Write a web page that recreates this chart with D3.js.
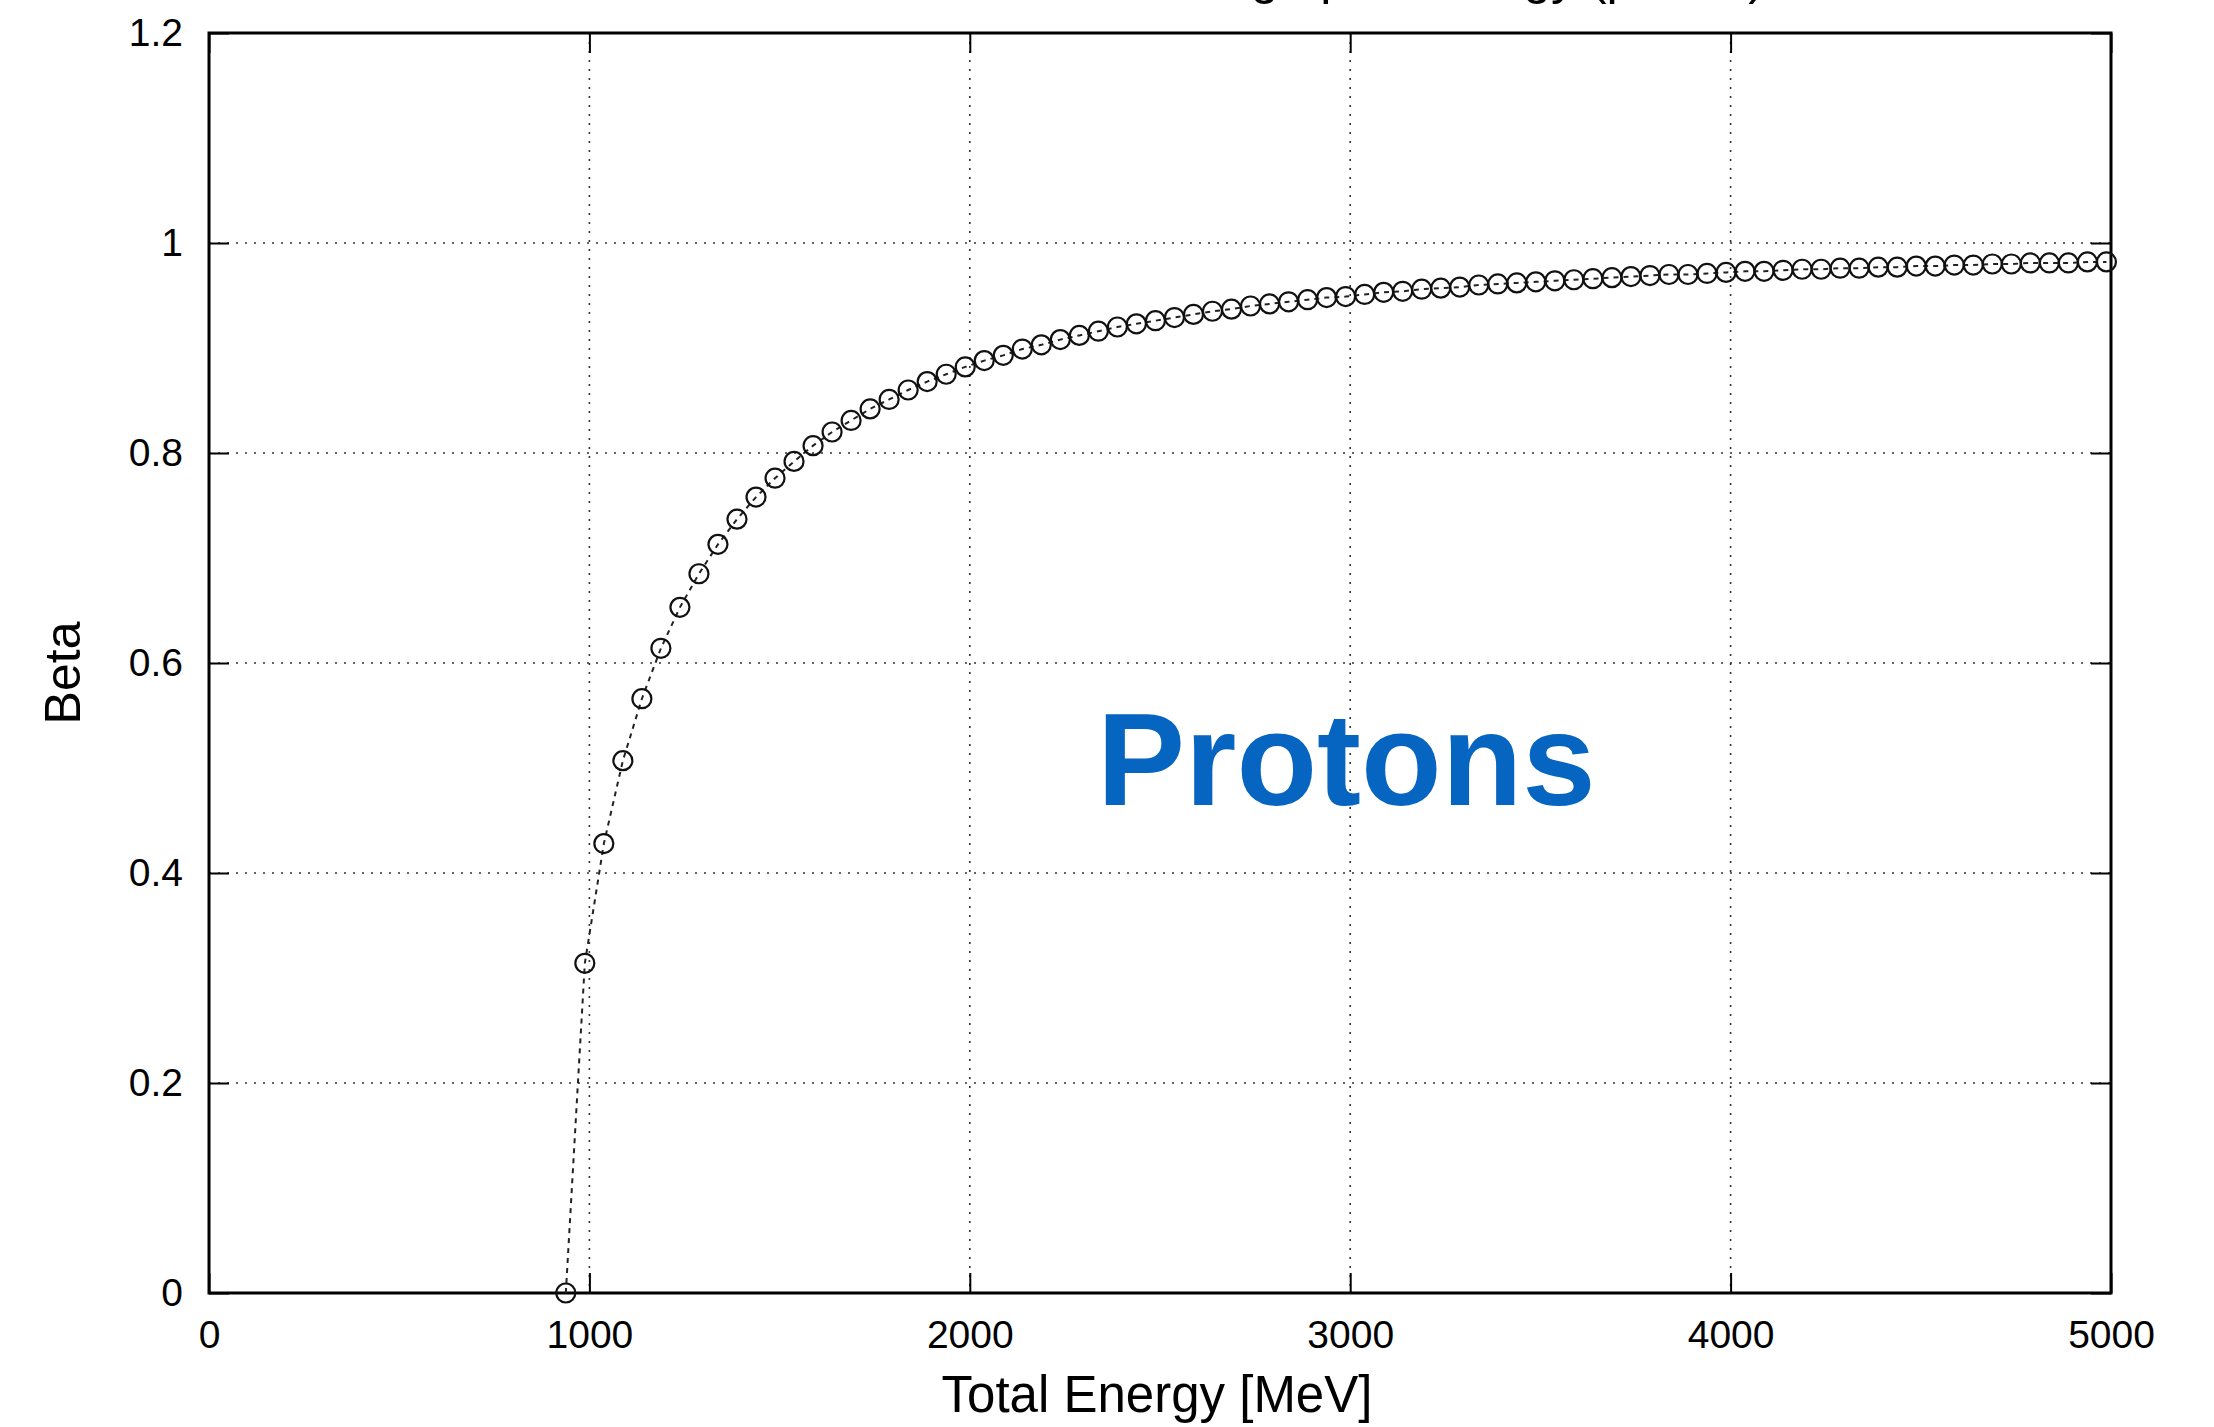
<!DOCTYPE html>
<html>
<head>
<meta charset="utf-8">
<script src="https://cdn.jsdelivr.net/npm/d3@7"></script>
<style>
  body { margin: 0; background: #fff; }
  text { font-family: "Liberation Sans", Arial, Helvetica, sans-serif; }
</style>
</head>
<body>
<script>
// proton beta vs total energy, one point every 50 MeV from the rest mass
const energies = [938, 988, 1038, 1088, 1138, 1188, 1238, 1288, 1338, 1388,
  1438, 1488, 1538, 1588, 1638, 1688, 1738, 1788, 1838, 1888,
  1938, 1988, 2038, 2088, 2138, 2188, 2238, 2288, 2338, 2388,
  2438, 2488, 2538, 2588, 2638, 2688, 2738, 2788, 2838, 2888,
  2938, 2988, 3038, 3088, 3138, 3188, 3238, 3288, 3338, 3388,
  3438, 3488, 3538, 3588, 3638, 3688, 3738, 3788, 3838, 3888,
  3938, 3988, 4038, 4088, 4138, 4188, 4238, 4288, 4338, 4388,
  4438, 4488, 4538, 4588, 4638, 4688, 4738, 4788, 4838, 4888,
  4938, 4988];
const betas = [0, 0.314, 0.428, 0.507, 0.566, 0.614, 0.653, 0.685, 0.713, 0.737,
  0.758, 0.776, 0.792, 0.807, 0.820, 0.831, 0.842, 0.851, 0.860, 0.868,
  0.875, 0.882, 0.888, 0.893, 0.899, 0.903, 0.908, 0.912, 0.916, 0.920,
  0.923, 0.926, 0.929, 0.932, 0.935, 0.937, 0.940, 0.942, 0.944, 0.946,
  0.948, 0.949, 0.951, 0.953, 0.954, 0.956, 0.957, 0.958, 0.960, 0.961,
  0.962, 0.963, 0.964, 0.965, 0.966, 0.967, 0.968, 0.969, 0.970, 0.970,
  0.971, 0.972, 0.973, 0.973, 0.974, 0.975, 0.975, 0.976, 0.976, 0.977,
  0.977, 0.978, 0.978, 0.979, 0.979, 0.980, 0.980, 0.981, 0.981, 0.981,
  0.982, 0.982];

const xTicks = [0, 1000, 2000, 3000, 4000, 5000];
const yTicks = [0, 0.2, 0.4, 0.6, 0.8, 1, 1.2];
const yTickLabels = ["0", "0.2", "0.4", "0.6", "0.8", "1", "1.2"];

// title is clipped by the top edge in the original, only descenders show
const titleText = "Beta Scaling upon Energy (proton)";
const xLabel = "Total Energy [MeV]";
const yLabel = "Beta";
const note = "Protons";
const notePos = [2990, 0.465];

const width = 2214, height = 1427;
const mLeft = 209, mRight = 2111, mTop = 33, mBottom = 1293;

const svg = d3.select("body").append("svg")
  .attr("width", width)
  .attr("height", height);

const x = d3.scaleLinear().domain([0, 5000]).range([mLeft, mRight]);
const y = d3.scaleLinear().domain([0, 1.2]).range([mBottom, mTop]);

// dotted grid on the inner ticks
svg.append("g")
  .selectAll("line")
  .data(xTicks.slice(1, -1))
  .enter()
  .append("line")
  .attr("x1", (d) => x(d)).attr("x2", (d) => x(d))
  .attr("y1", mTop).attr("y2", mBottom)
  .attr("stroke", "#333")
  .attr("stroke-width", 1.6)
  .attr("stroke-dasharray", "2,7");

svg.append("g")
  .selectAll("line")
  .data(yTicks.slice(1, -1))
  .enter()
  .append("line")
  .attr("x1", mLeft).attr("x2", mRight)
  .attr("y1", (d) => y(d)).attr("y2", (d) => y(d))
  .attr("stroke", "#333")
  .attr("stroke-width", 1.6)
  .attr("stroke-dasharray", "2,7");

// axes with ticks pointing inward
const xAxis = svg.append("g")
  .attr("transform", `translate(0,${mBottom})`)
  .call(d3.axisBottom(x).tickValues(xTicks).tickSize(-20).tickPadding(27)
    .tickFormat(d3.format("d")));
const yAxis = svg.append("g")
  .attr("transform", `translate(${mLeft},0)`)
  .call(d3.axisLeft(y).tickValues(yTicks).tickSize(-20).tickPadding(26)
    .tickFormat((d, i) => yTickLabels[i]));
const xTop = svg.append("g")
  .attr("transform", `translate(0,${mTop})`)
  .call(d3.axisTop(x).tickValues(xTicks).tickSize(-20).tickFormat(""));
const yRight = svg.append("g")
  .attr("transform", `translate(${mRight},0)`)
  .call(d3.axisRight(y).tickValues(yTicks).tickSize(-20).tickFormat(""));

[xAxis, yAxis, xTop, yRight].forEach((g) => {
  g.select(".domain").remove();
  g.selectAll(".tick line").attr("stroke", "#000").attr("stroke-width", 2);
  g.selectAll(".tick text")
    .attr("fill", "#000")
    .style("font-size", "39px");
});

// frame
svg.append("rect")
  .attr("x", mLeft).attr("y", mTop)
  .attr("width", mRight - mLeft).attr("height", mBottom - mTop)
  .attr("fill", "none")
  .attr("stroke", "#000")
  .attr("stroke-width", 3);

// data line + open circles
const pts = energies.map((e, i) => [e, betas[i]]);

svg.append("path")
  .datum(pts)
  .attr("d", d3.line().x((d) => x(d[0])).y((d) => y(d[1])))
  .attr("fill", "none")
  .attr("stroke", "#222")
  .attr("stroke-width", 2)
  .attr("stroke-dasharray", "5,5");

svg.append("g")
  .selectAll("circle")
  .data(pts)
  .enter()
  .append("circle")
  .attr("cx", (d) => x(d[0]))
  .attr("cy", (d) => y(d[1]))
  .attr("r", 9.5)
  .attr("fill", "none")
  .attr("stroke", "#111")
  .attr("stroke-width", 2.2);

// labels
svg.append("text")
  .attr("x", 1765).attr("y", -6)
  .attr("text-anchor", "end")
  .style("font-size", "50px")
  .text(titleText);

svg.append("text")
  .attr("x", (mLeft + mRight) / 2 - 3).attr("y", 1412)
  .attr("text-anchor", "middle")
  .style("font-size", "51px")
  .text(xLabel);

svg.append("text")
  .attr("transform", `translate(80,${(mTop + mBottom) / 2 + 10}) rotate(-90)`)
  .attr("text-anchor", "middle")
  .style("font-size", "50px")
  .text(yLabel);

svg.append("text")
  .attr("x", x(notePos[0])).attr("y", y(notePos[1]))
  .attr("text-anchor", "middle")
  .attr("fill", "#0565c0")
  .style("font-size", "132px")
  .style("font-weight", "bold")
  .text(note);
</script>
</body>
</html>
